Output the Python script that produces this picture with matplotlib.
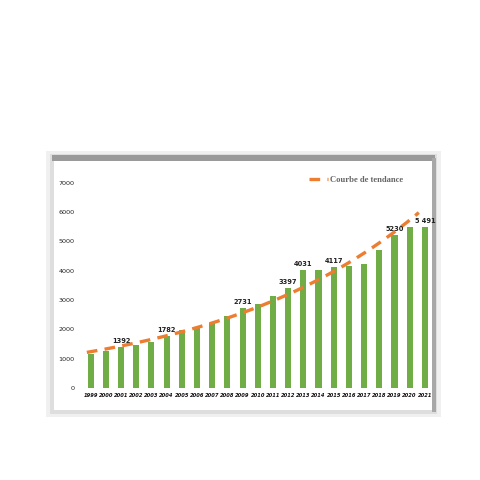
import numpy as np
import matplotlib.pyplot as plt
from matplotlib.patches import Rectangle

years = [str(y) for y in range(1999, 2022)]
values = [1172, 1252, 1392, 1480, 1571, 1782, 1992, 2094, 2208, 2459, 2731,
          2868, 3130, 3397, 4031, 4010, 4117, 4154, 4246, 4724, 5230, 5498, 5491]
# labels shown above some bars
shown = {"2001": "1392", "2004": "1782", "2009": "2731", "2012": "3397",
         "2013": "4031", "2015": "4117", "2019": "5230", "2021": "5 491"}

fig = plt.figure(figsize=(4.8, 4.8), dpi=100)
fig.patch.set_facecolor("white")

W, H = 480.0, 480.0


def fr(x0, y0, x1, y1, **kw):
    # rectangle in pixel coords (top-left origin)
    fig.patches.append(Rectangle((x0 / W, 1 - y1 / H), (x1 - x0) / W, (y1 - y0) / H,
                                 transform=fig.transFigure, zorder=0, **kw))


# frame with shadow
fr(46, 151, 441, 417, facecolor="#f0f0f0", edgecolor="none")
fr(50, 154, 437, 414, facecolor="#dedede", edgecolor="none")
fr(52, 155, 435, 161, facecolor="#9a9a9a", edgecolor="none")
fr(432, 158, 436, 412, facecolor="#a8a8a8", edgecolor="none")
fr(54, 161, 432, 410, facecolor="white", edgecolor="none")

ax = fig.add_axes([80 / W, 1 - 388 / H, (434 - 80) / W, (388 - 174) / H])
ax.set_facecolor("none")
ax.set_zorder(2)

x = np.arange(len(years))
ax.bar(x, values, width=0.4, color="#70AD47", zorder=2)

# exponential trend line fitted on the data
b, a = np.polyfit(x, np.log(values), 1)
xt = np.linspace(-0.25, 21.6, 200)
ax.plot(xt, np.exp(a + b * xt), color="#ED7D31", lw=2.4, dashes=(3.2, 2.2),
        zorder=3, label="Courbe de tendance")

for i, yr in enumerate(years):
    if yr in shown:
        ax.text(i, values[i] + 100, shown[yr], ha="center", va="bottom",
                fontsize=4.8, fontweight="bold", color="#222222", zorder=4)

ax.set_xlim(-0.7, 22.6)
ax.set_ylim(0, 7300)
ax.set_yticks(range(0, 7001, 1000))
ax.set_xticks(x)
ax.set_xticklabels(years, fontsize=3.7, fontstyle="italic", fontweight="bold")
ax.tick_params(axis="y", labelsize=4.6, length=0, pad=4, labelcolor="#222222")
ax.tick_params(axis="x", length=0, pad=3.5, labelcolor="#111111")
for s in ax.spines.values():
    s.set_visible(False)

leg = ax.legend(loc="upper right", bbox_to_anchor=(0.935, 1.025), frameon=False,
                prop={"family": "Liberation Serif", "size": 6.2, "weight": "bold"},
                handlelength=2.2, handletextpad=0.2)
for t in leg.get_texts():
    t.set_color("#666666")

plt.savefig("out.png", dpi=100)
